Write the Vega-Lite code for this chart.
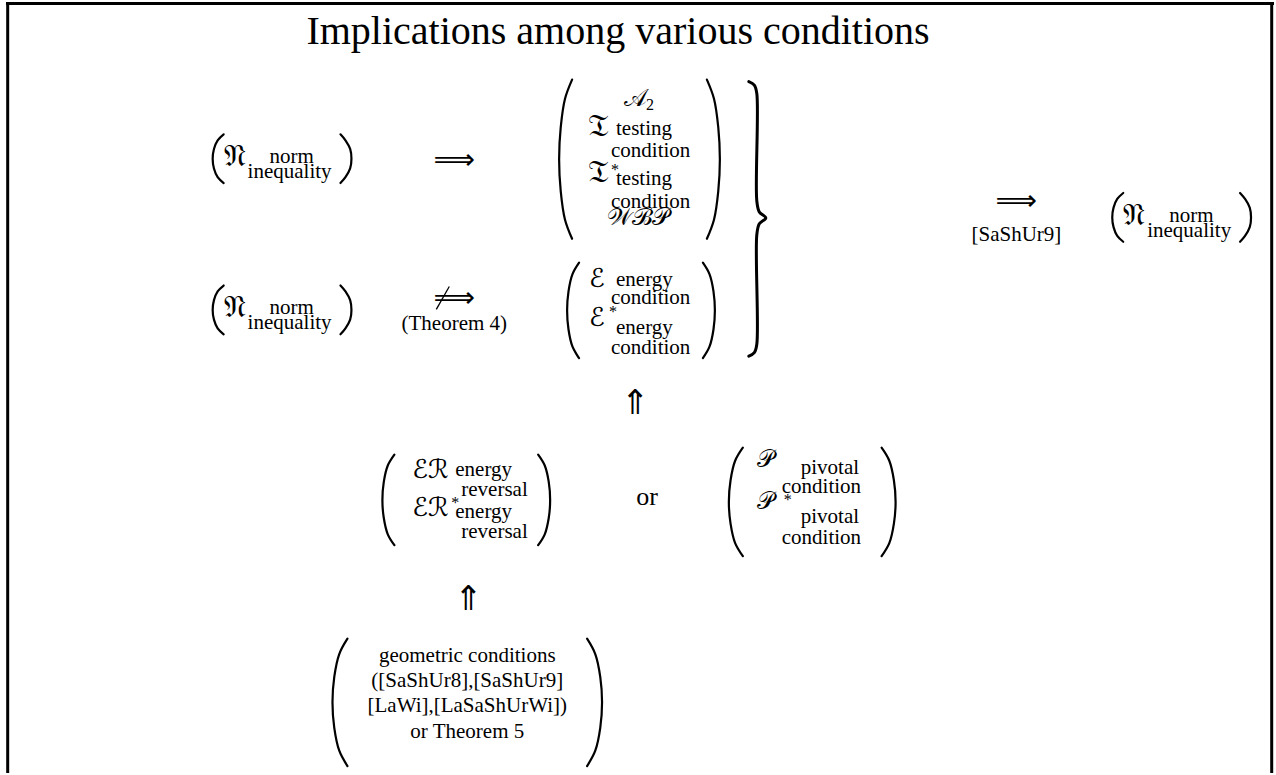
{
  "$schema": "https://vega.github.io/schema/vega-lite/v6.json",
  "width": 1276,
  "height": 775,
  "autosize": {"type": "fit", "contains": "padding"},
  "padding": 0,
  "background": "white",
  "config": {"view": {"stroke": null}},
  "datasets": {
    "strokes": [
      {"kind": "frame", "x": 7.7, "y": 0, "x2": 7.7, "y2": 775},
      {"kind": "frame", "x": 1273.7, "y": 0, "x2": 1273.7, "y2": 775},
      {"kind": "frame", "x": 6, "y": 1.5, "x2": 1276, "y2": 1.5},
      {"kind": "slash", "x": 450, "y": 286, "x2": 437, "y2": 309}
    ],
    "curves": [
      {"id": "p1L", "k": 0, "x": 224, "y": 133}, {"id": "p1L", "k": 1, "x": 218, "y": 139}, {"id": "p1L", "k": 2, "x": 214.3, "y": 147.7}, {"id": "p1L", "k": 3, "x": 213, "y": 157.5}, {"id": "p1L", "k": 4, "x": 214.3, "y": 167.3}, {"id": "p1L", "k": 5, "x": 218, "y": 176.1}, {"id": "p1L", "k": 6, "x": 224, "y": 182},
      {"id": "p1R", "k": 0, "x": 341, "y": 133}, {"id": "p1R", "k": 1, "x": 346, "y": 139}, {"id": "p1R", "k": 2, "x": 350.7, "y": 147.7}, {"id": "p1R", "k": 3, "x": 352, "y": 157.5}, {"id": "p1R", "k": 4, "x": 350.7, "y": 167.3}, {"id": "p1R", "k": 5, "x": 346, "y": 176.1}, {"id": "p1R", "k": 6, "x": 341, "y": 182},
      {"id": "p2L", "k": 0, "x": 224, "y": 285}, {"id": "p2L", "k": 1, "x": 218, "y": 290.9}, {"id": "p2L", "k": 2, "x": 214.3, "y": 299.7}, {"id": "p2L", "k": 3, "x": 213, "y": 309.5}, {"id": "p2L", "k": 4, "x": 214.3, "y": 319.3}, {"id": "p2L", "k": 5, "x": 218, "y": 328.1}, {"id": "p2L", "k": 6, "x": 224, "y": 334},
      {"id": "p2R", "k": 0, "x": 341, "y": 285}, {"id": "p2R", "k": 1, "x": 346, "y": 290.9}, {"id": "p2R", "k": 2, "x": 350.7, "y": 299.7}, {"id": "p2R", "k": 3, "x": 352, "y": 309.5}, {"id": "p2R", "k": 4, "x": 350.7, "y": 319.3}, {"id": "p2R", "k": 5, "x": 346, "y": 328.1}, {"id": "p2R", "k": 6, "x": 341, "y": 334},
      {"id": "p3L", "k": 0, "x": 1125, "y": 192}, {"id": "p3L", "k": 1, "x": 1119, "y": 198}, {"id": "p3L", "k": 2, "x": 1115.3, "y": 206.7}, {"id": "p3L", "k": 3, "x": 1114, "y": 216.5}, {"id": "p3L", "k": 4, "x": 1115.3, "y": 226.3}, {"id": "p3L", "k": 5, "x": 1119, "y": 235.1}, {"id": "p3L", "k": 6, "x": 1125, "y": 241},
      {"id": "p3R", "k": 0, "x": 1242, "y": 192}, {"id": "p3R", "k": 1, "x": 1247, "y": 198}, {"id": "p3R", "k": 2, "x": 1251.7, "y": 206.7}, {"id": "p3R", "k": 3, "x": 1253, "y": 216.5}, {"id": "p3R", "k": 4, "x": 1251.7, "y": 226.3}, {"id": "p3R", "k": 5, "x": 1247, "y": 235.1}, {"id": "p3R", "k": 6, "x": 1242, "y": 241},
      {"id": "m1L", "k": 0, "x": 573, "y": 78}, {"id": "m1L", "k": 1, "x": 565.9, "y": 97.2}, {"id": "m1L", "k": 2, "x": 561.6, "y": 126}, {"id": "m1L", "k": 3, "x": 560, "y": 158}, {"id": "m1L", "k": 4, "x": 561.6, "y": 190}, {"id": "m1L", "k": 5, "x": 565.9, "y": 218.8}, {"id": "m1L", "k": 6, "x": 573, "y": 238},
      {"id": "m1R", "k": 0, "x": 708, "y": 78}, {"id": "m1R", "k": 1, "x": 715.1, "y": 97.2}, {"id": "m1R", "k": 2, "x": 719.4, "y": 126}, {"id": "m1R", "k": 3, "x": 721, "y": 158}, {"id": "m1R", "k": 4, "x": 719.4, "y": 190}, {"id": "m1R", "k": 5, "x": 715.1, "y": 218.8}, {"id": "m1R", "k": 6, "x": 708, "y": 238},
      {"id": "m2L", "k": 0, "x": 580, "y": 262}, {"id": "m2L", "k": 1, "x": 573.4, "y": 273.5}, {"id": "m2L", "k": 2, "x": 569.4, "y": 290.8}, {"id": "m2L", "k": 3, "x": 568, "y": 310}, {"id": "m2L", "k": 4, "x": 569.4, "y": 329.2}, {"id": "m2L", "k": 5, "x": 573.4, "y": 346.5}, {"id": "m2L", "k": 6, "x": 580, "y": 358},
      {"id": "m2R", "k": 0, "x": 704, "y": 262}, {"id": "m2R", "k": 1, "x": 710.6, "y": 273.5}, {"id": "m2R", "k": 2, "x": 714.6, "y": 290.8}, {"id": "m2R", "k": 3, "x": 716, "y": 310}, {"id": "m2R", "k": 4, "x": 714.6, "y": 329.2}, {"id": "m2R", "k": 5, "x": 710.6, "y": 346.5}, {"id": "m2R", "k": 6, "x": 704, "y": 358},
      {"id": "erL", "k": 0, "x": 395, "y": 455}, {"id": "erL", "k": 1, "x": 388.4, "y": 465.9}, {"id": "erL", "k": 2, "x": 384.4, "y": 482.3}, {"id": "erL", "k": 3, "x": 383, "y": 500.5}, {"id": "erL", "k": 4, "x": 384.4, "y": 518.7}, {"id": "erL", "k": 5, "x": 388.4, "y": 535.1}, {"id": "erL", "k": 6, "x": 395, "y": 546},
      {"id": "erR", "k": 0, "x": 539, "y": 455}, {"id": "erR", "k": 1, "x": 545.6, "y": 465.9}, {"id": "erR", "k": 2, "x": 549.6, "y": 482.3}, {"id": "erR", "k": 3, "x": 551, "y": 500.5}, {"id": "erR", "k": 4, "x": 549.6, "y": 518.7}, {"id": "erR", "k": 5, "x": 545.6, "y": 535.1}, {"id": "erR", "k": 6, "x": 539, "y": 546},
      {"id": "pvL", "k": 0, "x": 744, "y": 448}, {"id": "pvL", "k": 1, "x": 736.3, "y": 461.1}, {"id": "pvL", "k": 2, "x": 731.7, "y": 480.7}, {"id": "pvL", "k": 3, "x": 730, "y": 502.5}, {"id": "pvL", "k": 4, "x": 731.7, "y": 524.3}, {"id": "pvL", "k": 5, "x": 736.3, "y": 543.9}, {"id": "pvL", "k": 6, "x": 744, "y": 557},
      {"id": "pvR", "k": 0, "x": 883, "y": 448}, {"id": "pvR", "k": 1, "x": 890.7, "y": 461.1}, {"id": "pvR", "k": 2, "x": 895.3, "y": 480.7}, {"id": "pvR", "k": 3, "x": 897, "y": 502.5}, {"id": "pvR", "k": 4, "x": 895.3, "y": 524.3}, {"id": "pvR", "k": 5, "x": 890.7, "y": 543.9}, {"id": "pvR", "k": 6, "x": 883, "y": 557},
      {"id": "bxL", "k": 0, "x": 348, "y": 640}, {"id": "bxL", "k": 1, "x": 339.8, "y": 655.4}, {"id": "bxL", "k": 2, "x": 334.8, "y": 678.4}, {"id": "bxL", "k": 3, "x": 333, "y": 704}, {"id": "bxL", "k": 4, "x": 334.8, "y": 729.6}, {"id": "bxL", "k": 5, "x": 339.8, "y": 752.6}, {"id": "bxL", "k": 6, "x": 348, "y": 768},
      {"id": "bxR", "k": 0, "x": 588, "y": 640}, {"id": "bxR", "k": 1, "x": 596.2, "y": 655.4}, {"id": "bxR", "k": 2, "x": 601.2, "y": 678.4}, {"id": "bxR", "k": 3, "x": 603, "y": 704}, {"id": "bxR", "k": 4, "x": 601.2, "y": 729.6}, {"id": "bxR", "k": 5, "x": 596.2, "y": 752.6}, {"id": "bxR", "k": 6, "x": 588, "y": 768}
    ],
    "brace": [
      {"id": "br", "k": 0, "x": 750, "y": 80}, {"id": "br", "k": 1, "x": 755.5, "y": 83.5}, {"id": "br", "k": 2, "x": 758, "y": 92}, {"id": "br", "k": 3, "x": 758, "y": 200}, {"id": "br", "k": 4, "x": 760.5, "y": 211}, {"id": "br", "k": 5, "x": 767, "y": 217}, {"id": "br", "k": 6, "x": 760.5, "y": 223}, {"id": "br", "k": 7, "x": 758, "y": 234}, {"id": "br", "k": 8, "x": 758, "y": 344}, {"id": "br", "k": 9, "x": 755.5, "y": 352.5}, {"id": "br", "k": 10, "x": 750, "y": 356}
    ],
    "labels": [
      {"t": "Implications among various conditions", "x": 619, "y": 42, "kind": "title"},
      {"t": "(Theorem 4)", "x": 455, "y": 330, "kind": "body"},
      {"t": "[SaShUr9]", "x": 1018, "y": 240, "kind": "body"},
      {"t": "geometric conditions", "x": 468, "y": 663, "kind": "body"},
      {"t": "([SaShUr8],[SaShUr9]", "x": 468, "y": 689, "kind": "body"},
      {"t": "[LaWi],[LaSaShUrWi])", "x": 468, "y": 714, "kind": "body"},
      {"t": "or Theorem 5", "x": 468, "y": 740, "kind": "body"},
      {"t": "or", "x": 648, "y": 506, "kind": "or"},
      {"t": "norm", "x": 270, "y": 162, "kind": "sub"},
      {"t": "inequality", "x": 248, "y": 177, "kind": "sub"},
      {"t": "norm", "x": 270, "y": 314, "kind": "sub"},
      {"t": "inequality", "x": 248, "y": 329, "kind": "sub"},
      {"t": "norm", "x": 1171, "y": 221, "kind": "sub"},
      {"t": "inequality", "x": 1149, "y": 236, "kind": "sub"},
      {"t": "testing", "x": 617, "y": 134, "kind": "sub"},
      {"t": "condition", "x": 612, "y": 156, "kind": "sub"},
      {"t": "testing", "x": 617, "y": 184, "kind": "sub"},
      {"t": "condition", "x": 612, "y": 207, "kind": "sub"},
      {"t": "energy", "x": 617, "y": 285, "kind": "sub"},
      {"t": "condition", "x": 612, "y": 304, "kind": "sub"},
      {"t": "energy", "x": 617, "y": 334, "kind": "sub"},
      {"t": "condition", "x": 612, "y": 354, "kind": "sub"},
      {"t": "energy", "x": 456, "y": 476, "kind": "sub"},
      {"t": "reversal", "x": 462, "y": 497, "kind": "sub"},
      {"t": "energy", "x": 456, "y": 519, "kind": "sub"},
      {"t": "reversal", "x": 462, "y": 539, "kind": "sub"},
      {"t": "pivotal", "x": 802, "y": 474, "kind": "sub"},
      {"t": "condition", "x": 783, "y": 494, "kind": "sub"},
      {"t": "pivotal", "x": 802, "y": 524, "kind": "sub"},
      {"t": "condition", "x": 783, "y": 545, "kind": "sub"},
      {"t": "2", "x": 647, "y": 109, "kind": "small"},
      {"t": "*", "x": 612, "y": 174, "kind": "small"},
      {"t": "*", "x": 610, "y": 317, "kind": "small"},
      {"t": "*", "x": 452, "y": 509, "kind": "small"},
      {"t": "*", "x": 785, "y": 506, "kind": "small"},
      {"t": "𝔑", "x": 224, "y": 165, "kind": "frak"},
      {"t": "𝔑", "x": 224, "y": 317, "kind": "frak"},
      {"t": "𝔑", "x": 1125, "y": 224, "kind": "frak"},
      {"t": "𝔗", "x": 589, "y": 135, "kind": "frak"},
      {"t": "𝔗", "x": 589, "y": 181, "kind": "frak"},
      {"t": "𝒜", "x": 625, "y": 105, "kind": "script"},
      {"t": "ℰ", "x": 590, "y": 286, "kind": "scriptl"},
      {"t": "ℰ", "x": 590, "y": 326, "kind": "scriptl"},
      {"t": "ℰℛ", "x": 413, "y": 478, "kind": "scriptl"},
      {"t": "ℰℛ", "x": 413, "y": 517, "kind": "scriptl"},
      {"t": "𝒫", "x": 758, "y": 467, "kind": "script"},
      {"t": "𝒫", "x": 758, "y": 510, "kind": "script"},
      {"t": "𝒲ℬ𝒫", "x": 639, "y": 224, "kind": "scriptc"},
      {"t": "⟹", "x": 455, "y": 168, "kind": "arrow"},
      {"t": "⟹", "x": 455, "y": 307, "kind": "arrow"},
      {"t": "⟹", "x": 1018, "y": 209, "kind": "arrow"},
      {"t": "⇑", "x": 636, "y": 414, "kind": "uparrow"},
      {"t": "⇑", "x": 469, "y": 611, "kind": "uparrow"}
    ]
  },
  "encoding": {
    "x": {"field": "x", "type": "quantitative", "scale": {"domain": [0, 1276], "nice": false, "zero": false}, "axis": null},
    "y": {"field": "y", "type": "quantitative", "scale": {"domain": [0, 775], "nice": false, "zero": false, "reverse": true}, "axis": null}
  },
  "layer": [
    {
      "data": {"name": "strokes"},
      "transform": [{"filter": "datum.kind === 'frame'"}],
      "mark": {"type": "rule", "color": "black", "strokeWidth": 3},
      "encoding": {"x2": {"field": "x2"}, "y2": {"field": "y2"}}
    },
    {
      "data": {"name": "strokes"},
      "transform": [{"filter": "datum.kind === 'slash'"}],
      "mark": {"type": "rule", "color": "black", "strokeWidth": 1.3},
      "encoding": {"x2": {"field": "x2"}, "y2": {"field": "y2"}}
    },
    {
      "data": {"name": "curves"},
      "mark": {"type": "line", "color": "black", "strokeWidth": 2.2, "interpolate": "catmull-rom", "strokeCap": "round"},
      "encoding": {"detail": {"field": "id"}, "order": {"field": "k", "type": "quantitative"}}
    },
    {
      "data": {"name": "brace"},
      "mark": {"type": "line", "color": "black", "strokeWidth": 3, "interpolate": "catmull-rom", "strokeCap": "round"},
      "encoding": {"detail": {"field": "id"}, "order": {"field": "k", "type": "quantitative"}}
    },
    {
      "data": {"name": "labels"},
      "transform": [{"filter": "datum.kind === 'title'"}],
      "mark": {"type": "text", "font": "Liberation Serif", "fontSize": 40, "align": "center", "baseline": "alphabetic", "color": "black"},
      "encoding": {"text": {"field": "t"}}
    },
    {
      "data": {"name": "labels"},
      "transform": [{"filter": "datum.kind === 'body'"}],
      "mark": {"type": "text", "font": "Liberation Serif", "fontSize": 21, "align": "center", "baseline": "alphabetic", "color": "black"},
      "encoding": {"text": {"field": "t"}}
    },
    {
      "data": {"name": "labels"},
      "transform": [{"filter": "datum.kind === 'or'"}],
      "mark": {"type": "text", "font": "Liberation Serif", "fontSize": 26, "align": "center", "baseline": "alphabetic", "color": "black"},
      "encoding": {"text": {"field": "t"}}
    },
    {
      "data": {"name": "labels"},
      "transform": [{"filter": "datum.kind === 'sub'"}],
      "mark": {"type": "text", "font": "Liberation Serif", "fontSize": 21, "align": "left", "baseline": "alphabetic", "color": "black"},
      "encoding": {"text": {"field": "t"}}
    },
    {
      "data": {"name": "labels"},
      "transform": [{"filter": "datum.kind === 'small'"}],
      "mark": {"type": "text", "font": "Liberation Serif", "fontSize": 16, "align": "left", "baseline": "alphabetic", "color": "black"},
      "encoding": {"text": {"field": "t"}}
    },
    {
      "data": {"name": "labels"},
      "transform": [{"filter": "datum.kind === 'frak'"}],
      "mark": {"type": "text", "font": "DejaVu Sans", "fontSize": 31, "align": "left", "baseline": "alphabetic", "color": "black"},
      "encoding": {"text": {"field": "t"}}
    },
    {
      "data": {"name": "labels"},
      "transform": [{"filter": "datum.kind === 'script'"}],
      "mark": {"type": "text", "font": "DejaVu Serif", "fontSize": 24, "align": "left", "baseline": "alphabetic", "color": "black"},
      "encoding": {"text": {"field": "t"}}
    },
    {
      "data": {"name": "labels"},
      "transform": [{"filter": "datum.kind === 'scriptl'"}],
      "mark": {"type": "text", "font": "DejaVu Sans", "fontSize": 26, "align": "left", "baseline": "alphabetic", "color": "black"},
      "encoding": {"text": {"field": "t"}}
    },
    {
      "data": {"name": "labels"},
      "transform": [{"filter": "datum.kind === 'scriptc'"}],
      "mark": {"type": "text", "font": "DejaVu Serif", "fontSize": 24, "align": "center", "baseline": "alphabetic", "color": "black"},
      "encoding": {"text": {"field": "t"}}
    },
    {
      "data": {"name": "labels"},
      "transform": [{"filter": "datum.kind === 'arrow'"}],
      "mark": {"type": "text", "font": "DejaVu Sans", "fontSize": 29, "align": "center", "baseline": "alphabetic", "color": "black"},
      "encoding": {"text": {"field": "t"}}
    },
    {
      "data": {"name": "labels"},
      "transform": [{"filter": "datum.kind === 'uparrow'"}],
      "mark": {"type": "text", "font": "DejaVu Sans", "fontSize": 34, "align": "center", "baseline": "alphabetic", "color": "black"},
      "encoding": {"text": {"field": "t"}}
    }
  ]
}
